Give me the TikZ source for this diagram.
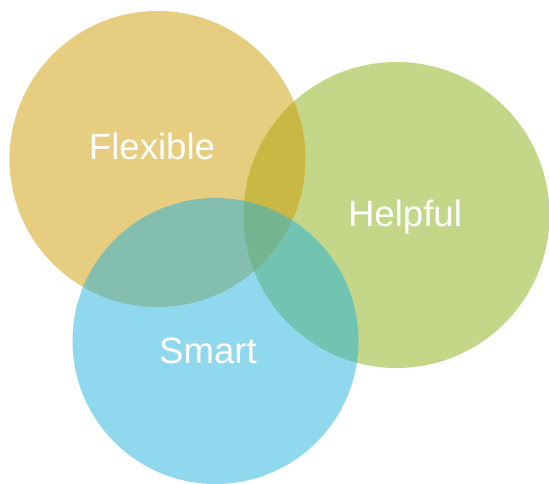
\documentclass[tikz,border=0pt]{standalone}
\usepackage{fontspec}
\setmainfont{Liberation Sans}
\definecolor{goldc}{RGB}{207,155,1}
\definecolor{greenc}{RGB}{137,173,17}
\definecolor{bluec}{RGB}{33,177,221}
\begin{document}
\begin{tikzpicture}[x=1pt,y=-1pt,
  bubble/.style={circle,inner sep=0pt,fill opacity=0.5,draw=none},
  lbl/.style={text=white,font=\fontsize{36.6}{40}\selectfont,anchor=base,inner sep=0pt}]
\useasboundingbox (0,0) rectangle (549,483);
\node[bubble,fill=greenc,minimum size=306pt] (helpful) at (396.5,215) {};
\node[bubble,fill=goldc,minimum size=296pt] (flexible) at (157.5,159) {};
\node[bubble,fill=bluec,minimum size=286pt] (smart) at (215.5,341) {};
\node[lbl] (tflex) at (152,159) {Flexible};
\node[lbl] (thelp) at (405,226) {Helpful};
\node[lbl] (tsmart) at (208,363) {Smart};
\end{tikzpicture}
\end{document}
